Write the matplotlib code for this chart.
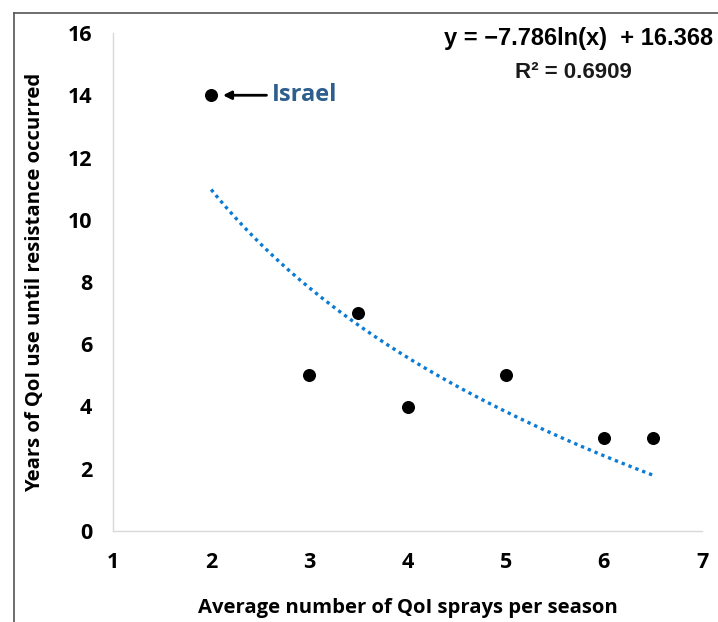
import numpy as np
import matplotlib.pyplot as plt
from matplotlib.lines import Line2D

# QoI sprays per season vs. years until resistance
sprays = [2, 3, 3.5, 4, 5, 6, 6.5]
years = [14, 5, 7, 4, 5, 3, 3]

# logarithmic trendline coefficients
slope = -7.786
intercept = 16.368
r_squared = 0.6909

x_ticks = [1, 2, 3, 4, 5, 6, 7]
y_ticks = [0, 2, 4, 6, 8, 10, 12, 14, 16]

plt.rcParams['font.family'] = ['Open Sans', 'DejaVu Sans']

fig = plt.figure(figsize=(7.18, 6.22), dpi=100)
ax = fig.add_axes([113 / 718, 1 - 531 / 622, (702 - 113) / 718, (531 - 33) / 622])

xs = np.linspace(min(sprays), max(sprays), 200)
ax.plot(xs, slope * np.log(xs) + intercept, linestyle=(0, (1, 1.2)),
        color='#0B7BD4', linewidth=2.4, zorder=2)
ax.scatter(sprays, years, s=70, color='black', zorder=3)

ax.set_xlim(1, 7)
ax.set_ylim(0, 16)
ax.set_xticks(x_ticks)
ax.set_yticks(y_ticks)
ax.tick_params(length=0, labelsize=15.5)
ax.tick_params(axis='x', pad=15)
ax.tick_params(axis='y', pad=15)
for lab in ax.get_xticklabels() + ax.get_yticklabels():
    lab.set_fontweight('bold')

for side in ['top', 'right']:
    ax.spines[side].set_visible(False)
for side in ['left', 'bottom']:
    ax.spines[side].set_color('#D9D9D9')
    ax.spines[side].set_linewidth(1)

ax.set_xlabel('Average number of QoI sprays per season', fontsize=14.6,
              fontweight='bold', labelpad=18)
ax.set_ylabel('Years of QoI use until resistance occurred', fontsize=14.6,
              fontweight='bold')
ax.yaxis.set_label_coords(-(113 - 45) / (702 - 113), 0.5)

ax.annotate('Israel', xy=(2.12, 14), xytext=(2.62, 14),
            fontsize=17, fontweight='bold', color='#2E5E8E', va='center',
            arrowprops=dict(arrowstyle='-|>', color='black', lw=2,
                            mutation_scale=12, shrinkA=2, shrinkB=0))

fig.text(713 / 718, 1 - 38 / 622, 'y = \u22127.786ln(x)  + 16.368', ha='right',
         va='center', fontsize=17, fontweight='bold', family='Liberation Sans')
fig.text(573 / 718, 1 - 72 / 622, 'R\u00b2 = 0.6909', ha='center',
         va='center', fontsize=16, fontweight='bold', family='Liberation Sans',
         color='#1a1a1a')

# frame on left and top of the figure
fig.add_artist(Line2D([14 / 718, 14 / 718], [0, 1 - 13 / 622],
                      color='#555555', linewidth=1.2))
fig.add_artist(Line2D([14 / 718, 1], [1 - 13 / 622, 1 - 13 / 622],
                      color='#555555', linewidth=1.2))

fig.savefig('out.png', dpi=100)
